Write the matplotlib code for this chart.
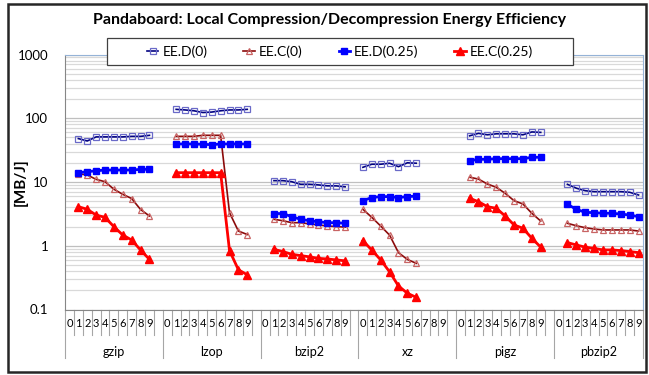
import numpy as np
import matplotlib
matplotlib.use("Agg")
import matplotlib.pyplot as plt
from matplotlib.patches import Rectangle

plt.rcParams['font.family'] = ['Lato', 'DejaVu Sans']

# compressor groups, and which levels were measured in each
groups = ["gzip", "lzop", "bzip2", "xz", "pigz", "pbzip2"]
first_level = [1, 1, 1, 0, 1, 1]
n_levels = [9, 9, 9, 7, 9, 9]
level_labels = [str(i) for i in range(10)]

# energy efficiency [MB/J], groups concatenated in the order above
ee_d0 = [48, 44, 51, 51, 51, 51, 52, 52, 54,
         138, 135, 131, 123, 125, 131, 135, 135, 138,
         10.5, 10.5, 10.1, 9.2, 9.2, 9.0, 8.7, 8.7, 8.4,
         17, 19, 19, 19.7, 17.4, 20, 19.7,
         53, 58, 55, 57, 57, 57, 55, 61, 60,
         9.2, 8.0, 7.3, 7.05, 7.05, 7.05, 7.05, 6.9, 6.25]
ee_c0 = [13.5, 12.9, 11.0, 10.1, 7.7, 6.4, 5.5, 3.7, 2.93,
         52, 52, 52, 54, 54, 54, 3.3, 1.7, 1.5,
         2.6, 2.47, 2.3, 2.3, 2.2, 2.12, 2.04, 2.0, 1.96,
         3.73, 2.79, 2.04, 1.47, 0.78, 0.61, 0.53,
         11.9, 11.1, 9.3, 8.26, 6.65, 5.09, 4.52, 3.23, 2.44,
         2.25, 2.06, 1.92, 1.83, 1.77, 1.77, 1.77, 1.77, 1.70]
ee_d25 = [14.0, 14.5, 15.0, 15.4, 15.4, 15.4, 15.4, 15.8, 15.8,
          39.5, 39.5, 39.5, 39, 38.5, 39.5, 39.5, 39.5, 39.5,
          3.2, 3.2, 2.86, 2.6, 2.47, 2.38, 2.3, 2.3, 2.25,
          5.1, 5.7, 5.9, 5.9, 5.7, 5.9, 6.0,
          21.6, 22.7, 22.7, 23.2, 23.2, 23.2, 23.2, 24.4, 24.4,
          4.47, 3.73, 3.35, 3.3, 3.23, 3.23, 3.15, 3.03, 2.86]
ee_c25 = [4.1, 3.73, 3.03, 2.79, 1.99, 1.47, 1.23, 0.857, 0.61,
          14, 14, 14, 14, 14, 14, 0.84, 0.42, 0.35,
          0.88, 0.81, 0.735, 0.70, 0.67, 0.635, 0.62, 0.60, 0.58,
          1.20, 0.857, 0.60, 0.39, 0.234, 0.18, 0.155,
          5.55, 4.91, 4.10, 3.87, 2.93, 2.12, 1.88, 1.31, 0.95,
          1.12, 1.03, 0.95, 0.91, 0.86, 0.86, 0.84, 0.81, 0.78]

# each group takes 11 category slots (10 levels + a blank), last one only 10
slots = [11, 11, 11, 11, 11, 10]
starts = np.concatenate([[0], np.cumsum(slots)])
n_cat = starts[-1]


def spread(values):
    # put the flat value list on the category axis, NaN in between groups
    y = np.full(n_cat, np.nan)
    k = 0
    for g in range(len(groups)):
        for j in range(n_levels[g]):
            y[starts[g] + first_level[g] + j] = values[k]
            k += 1
    return y


W, H = 649, 375
fig = plt.figure(figsize=(W / 100, H / 100), dpi=100)
ax = fig.add_axes([65 / W, 1 - 309.5 / H, 578 / W, 255 / H])

x = np.arange(n_cat) + 0.5
series = [
    ("EE.D(0)", ee_d0, dict(color="#000080", lw=1.2, marker="s", ms=4.3,
                            mfc="none", mec="#6A6AC8", mew=0.9)),
    ("EE.C(0)", ee_c0, dict(color="#8B0A0A", lw=1.2, marker="^", ms=5,
                            mfc="none", mec="#C86464", mew=0.9)),
    ("EE.D(0.25)", ee_d25, dict(color="#0000FF", lw=2, marker="s", ms=4.5,
                                mfc="#0000FF", mec="#0000FF")),
    ("EE.C(0.25)", ee_c25, dict(color="#FF0000", lw=2, marker="^", ms=5.5,
                                mfc="#FF0000", mec="#FF0000")),
]
handles = []
for label, vals, style in series:
    h, = ax.plot(x, spread(vals), label=label, **style)
    handles.append(h)

ax.set_yscale("log")
ax.set_ylim(0.1, 1000)
ax.set_xlim(0, n_cat)
ax.set_yticks([0.1, 1, 10, 100, 1000])
ax.set_yticklabels(["0.1", "1", "10", "100", "1000"], fontsize=9.5)
ax.tick_params(axis="y", which="both", length=0, pad=12)
ax.grid(True, which="major", axis="y", color="#BFBFBF", lw=0.9)
ax.grid(True, which="minor", axis="y", color="#D9D9D9", lw=0.9)
ax.set_axisbelow(True)
ax.set_xticks([])
for side in ["top", "right"]:
    ax.spines[side].set_color("#95B3D7")
for side in ["left", "bottom"]:
    ax.spines[side].set_color("#868686")

# two-level category axis drawn below the plot
tr = ax.get_xaxis_transform()
for b in range(n_cat + 1):
    is_group = b in starts
    ax.plot([b, b], [0, -0.19 if is_group else -0.10], transform=tr,
            color="#A6A6A6", lw=0.8, clip_on=False)
for g, name in enumerate(groups):
    for i, lab in enumerate(level_labels):
        ax.text(starts[g] + i + 0.5, -0.053, lab, transform=tr,
                ha="center", va="center", fontsize=8)
    ax.text(starts[g] + slots[g] / 2, -0.167, name, transform=tr,
            ha="center", va="center", fontsize=9)

fig.text(21 / W, 1 - 182 / H, "[MB/J]", rotation=90, ha="center",
         va="center", fontsize=11, fontweight="bold")
fig.text(330 / W, 1 - 20 / H,
         "Pandaboard: Local Compression/Decompression Energy Efficiency",
         ha="center", va="center", fontsize=11.5, fontweight="bold")

fig.patches.append(Rectangle((107 / W, 1 - 65 / H), 466 / W, 27 / H,
                             transform=fig.transFigure, fill=True,
                             facecolor="white", edgecolor="#404040", lw=0.9,
                             zorder=5))
leg = fig.legend(handles=handles, loc="center", ncol=4,
                 bbox_to_anchor=(340 / W, 1 - 51.5 / H), frameon=False,
                 fontsize=10, handlelength=0.8, handletextpad=0.3,
                 columnspacing=2.6)
leg.set_zorder(6)

fig.patches.append(Rectangle((8 / W, 1 - 372 / H), 638 / W, 368 / H,
                             transform=fig.transFigure, fill=False,
                             edgecolor="#262626", lw=1.8))

fig.savefig("out.png", dpi=100)
